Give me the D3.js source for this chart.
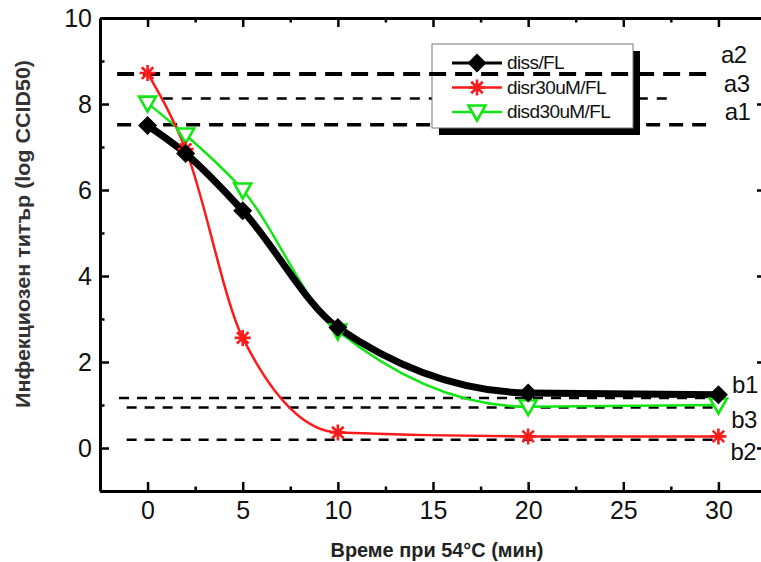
<!DOCTYPE html>
<html>
<head>
<meta charset="utf-8">
<script src="https://cdn.jsdelivr.net/npm/d3@7"></script>
<style>
  body { margin: 0; background: #fff; }
  svg { display: block; font-family: "Liberation Sans", Arial, sans-serif; }
</style>
</head>
<body>
<svg id="chart" width="761" height="562"></svg>
<script>
// data
const times = [0, 2, 5, 10, 20, 30];
const dissFL = [7.5, 6.85, 5.52, 2.8, 1.28, 1.24];
const disr30 = [8.72, 6.95, 2.56, 0.36, 0.27, 0.27];
const disd30 = [8.02, 7.28, 6.0, 2.72, 0.96, 1.0];
const seriesNames = ['diss/FL', 'disr30uM/FL', 'disd30uM/FL'];

const refNames = ['a2', 'a3', 'a1', 'b1', 'b3', 'b2'];
const refValues = [8.7, 8.13, 7.52, 1.16, 0.94, 0.19];
const refFrom = [-1.6, 0.8, -1.6, -1.5, -1.1, -1.1];
const refTo = [29.5, 27.5, 29.7, 30.4, 30.2, 30.0];

const xTicks = [0, 5, 10, 15, 20, 25, 30];
const xMinor = [2.5, 7.5, 12.5, 17.5, 22.5, 27.5, 32.5];
const yTicks = [0, 2, 4, 6, 8, 10];
const yMinor = [-1, 1, 3, 5, 7, 9];

const xTitle = 'Време при 54°C (мин)';
const yTitle = 'Инфекциозен титър  (log CCID50)';

// styles
const seriesStyle = [
  { color: '#000', width: 7, legendWidth: 3, marker: 'diamond' },
  { color: '#ff1a1a', width: 2.5, legendWidth: 2.5, marker: 'star' },
  { color: '#12e612', width: 2.5, legendWidth: 2.5, marker: 'tri' }
];
const refStyle = [
  { w: 4, dash: '17,9', top: true, dx: 12, dy: -11 },
  { w: 2.5, dash: '10,9', top: false, dx: 53, dy: -6 },
  { w: 3.5, dash: '14,9', top: false, dx: 12, dy: -5 },
  { w: 2.5, dash: '10,8', top: false, dx: 6, dy: -5 },
  { w: 2.5, dash: '10,8', top: false, dx: 9, dy: 20 },
  { w: 2.5, dash: '10,8', top: false, dx: 12, dy: 20 }
];

const svg = d3.select('#chart');
const x = d3.scaleLinear().domain([-2.5, 32.5]).range([100, 766]);
const y = d3.scaleLinear().domain([-1, 10]).range([491, 18]);

const series = [dissFL, disr30, disd30].map((vals, i) => ({
  name: seriesNames[i],
  style: seriesStyle[i],
  points: times.map((t, j) => ({ t: t, v: vals[j] }))
}));
const refs = refNames.map((n, i) => ({
  name: n, v: refValues[i], x0: refFrom[i], x1: refTo[i], s: refStyle[i]
}));

function drawMarker(g, kind, color) {
  if (kind === 'diamond') {
    g.append('path').attr('d', 'M0,-9.5L9.5,0L0,9.5L-9.5,0Z').attr('fill', color);
  } else if (kind === 'star') {
    const r = 8, a = r * 0.72;
    g.append('path')
      .attr('d', `M0,${-r}V${r}M${-r},0H${r}M${-a},${-a}L${a},${a}M${-a},${a}L${a},${-a}`)
      .attr('stroke', color).attr('stroke-width', 2.6).attr('fill', 'none');
  } else {
    g.append('path').attr('d', 'M-8.5,-6.5L8.5,-6.5L0,8.5Z')
      .attr('fill', '#fff').attr('stroke', color).attr('stroke-width', 2.6)
      .attr('stroke-linejoin', 'miter');
  }
}

function drawRefs(list) {
  const g = svg.append('g');
  g.selectAll('line').data(list).join('line')
    .attr('x1', d => x(d.x0)).attr('x2', d => x(d.x1))
    .attr('y1', d => y(d.v)).attr('y2', d => y(d.v))
    .attr('stroke', '#000').attr('stroke-width', d => d.s.w)
    .attr('stroke-dasharray', d => d.s.dash);
}

// reference lines below the legend
drawRefs(refs.filter(d => !d.s.top));
svg.append('g').selectAll('text').data(refs).join('text')
  .attr('x', d => x(d.x1) + d.s.dx).attr('y', d => y(d.v) + d.s.dy)
  .attr('font-size', 24).attr('fill', '#111').attr('letter-spacing', -0.5)
  .text(d => d.name);

// curves
const line = d3.line().x(d => x(d.t)).y(d => y(d.v)).curve(d3.curveMonotoneX);
const drawOrder = [2, 1, 0];
drawOrder.forEach(i => {
  const s = series[i];
  svg.append('path').attr('d', line(s.points))
    .attr('fill', 'none').attr('stroke', s.style.color)
    .attr('stroke-width', s.style.width).attr('stroke-linejoin', 'round');
});

// legend
const lg = svg.append('g').attr('transform', 'translate(432,44)');
lg.append('rect').attr('x', 7).attr('y', 7).attr('width', 201).attr('height', 84).attr('fill', '#000');
lg.append('rect').attr('width', 201).attr('height', 84).attr('fill', '#fff')
  .attr('stroke', '#777').attr('stroke-width', 1);
series.forEach((s, i) => {
  const row = lg.append('g').attr('transform', `translate(0,${19 + i * 24.5})`);
  row.append('line').attr('x1', 20).attr('x2', 70)
    .attr('stroke', s.style.color).attr('stroke-width', s.style.legendWidth);
  drawMarker(row.append('g').attr('transform', 'translate(45,0)'), s.style.marker, s.style.color);
  row.append('text').attr('x', 75).attr('dy', '0.33em')
    .attr('font-size', 19).attr('letter-spacing', -0.6).attr('fill', '#111').text(s.name);
});

// reference line over the legend
drawRefs(refs.filter(d => d.s.top));

// markers
drawOrder.forEach(i => {
  const s = series[i];
  s.points.forEach(p => {
    drawMarker(svg.append('g').attr('transform', `translate(${x(p.t)},${y(p.v)})`),
      s.style.marker, s.style.color);
  });
});

// axes (frame with inward ticks)
function styleAxis(g) {
  g.select('.domain').attr('stroke-width', 3);
  g.selectAll('.tick line').attr('stroke-width', 2.5);
  g.selectAll('.tick text').attr('font-size', 25).attr('fill', '#111')
    .attr('font-family', '"Liberation Sans", Arial, sans-serif');
}
const axes = [
  { gen: d3.axisBottom, scale: x, ticks: xTicks, minor: xMinor, pos: 'translate(0,491)', labels: true },
  { gen: d3.axisTop, scale: x, ticks: xTicks, minor: xMinor, pos: 'translate(0,18)', labels: false },
  { gen: d3.axisLeft, scale: y, ticks: yTicks, minor: yMinor, pos: 'translate(100,0)', labels: true },
  { gen: d3.axisRight, scale: y, ticks: yTicks, minor: yMinor, pos: 'translate(766,0)', labels: false }
];
axes.forEach(a => {
  svg.append('g').attr('transform', a.pos)
    .call(a.gen(a.scale).tickValues(a.minor).tickSize(-4.5).tickSizeOuter(0).tickFormat(''))
    .call(g => g.select('.domain').remove())
    .call(styleAxis);
  svg.append('g').attr('transform', a.pos)
    .call(a.gen(a.scale).tickValues(a.ticks).tickSize(-9).tickSizeOuter(0)
      .tickPadding(a.gen === d3.axisBottom ? 10 : 8)
      .tickFormat(a.labels ? d3.format('d') : ''))
    .call(styleAxis);
});

// titles
svg.append('text').attr('x', 437).attr('y', 557).attr('text-anchor', 'middle')
  .attr('font-size', 19.5).attr('font-weight', 'bold').attr('fill', '#222')
  .attr('textLength', 213).attr('lengthAdjust', 'spacingAndGlyphs').text(xTitle);
svg.append('text').attr('transform', 'translate(30,234) rotate(-90)').attr('text-anchor', 'middle')
  .attr('font-size', 20).attr('font-weight', 'bold').attr('fill', '#333')
  .attr('textLength', 348).attr('lengthAdjust', 'spacingAndGlyphs').text(yTitle);
</script>
</body>
</html>
